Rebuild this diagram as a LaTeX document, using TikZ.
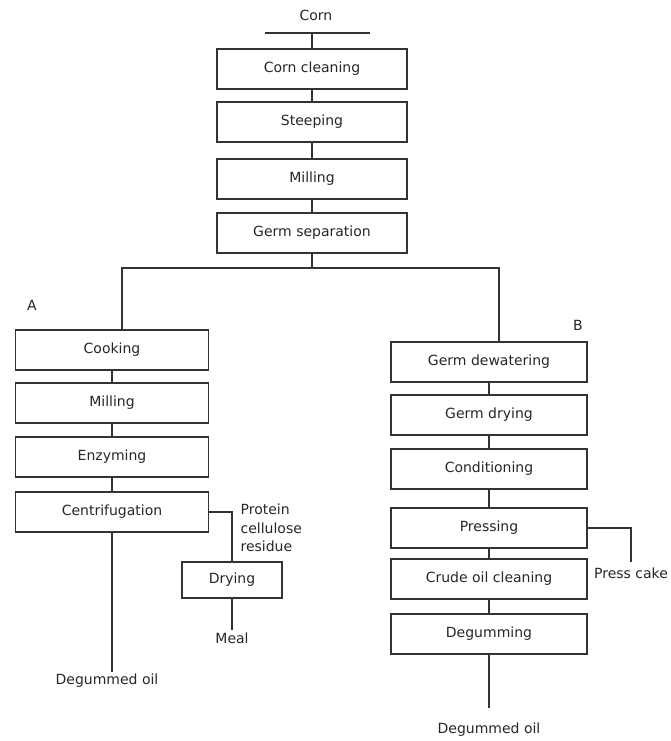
\documentclass[tikz,border=0pt]{standalone}
\usepackage{fontspec}
\setmainfont{DejaVu Sans}
\usetikzlibrary{calc,
	positioning}

\begin{document}
\begin{tikzpicture}[x=1pt, y=-1pt, line width=1.2pt, draw=black!80, text=black!85,
	box/.style={draw, minimum height=40pt, inner sep=0pt, font=\fontsize{14}{17}\selectfont},
	lbl/.style={font=\fontsize{14}{18.5}\selectfont, inner sep=2pt}]
	\useasboundingbox (0, 0) rectangle (670, 741);
	% raw material
	\node[lbl] (corn) at (316, 15) {Corn};
	\coordinate (cornl) at (265, 33);
	\coordinate (cornr) at (370, 33);
	\draw (cornl) -- (cornr);
	\foreach \name/\txt/\y in {clean/Corn cleaning/69, steep/Steeping/122, mill/Milling/179, sep/Germ separation/233} {
		\node[box, minimum width=190pt] (\name) at (312, \y) {\txt};
	}
	% route A
	\foreach \name/\txt/\y in {cook/Cooking/350, millA/Milling/403, enz/Enzyming/457, cent/Centrifugation/512} {
		\node[box, minimum width=193pt] (\name) at (112, \y) {\txt};
	}
	% route B
	\foreach \name/\txt/\y in {dew/Germ dewatering/362, gdry/Germ drying/415, cond/Conditioning/469, press/Pressing/528, crude/Crude oil cleaning/579, degum/Degumming/634} {
		\node[box, minimum width=196pt] (\name) at (489, \y) {\txt};
	}
	\foreach \a/\b in {clean/steep, steep/mill, mill/sep, cook/millA, millA/enz, enz/cent, dew/gdry, gdry/cond, cond/press, press/crude, crude/degum} {
		\draw (\a) -- (\b);
	}
	\draw (clean) -- (clean |- cornl);
	% split into A and B
	\coordinate (brA) at (122, 268);
	\coordinate (brB) at (499, 268);
	\draw (sep) -- (sep |- brA);
	\draw (cook.north -| brA) -- (brA) -- (brB) -- (dew.north -| brB);
	\node[lbl] (labA) at (32, 305) {A};
	\node[lbl] (labB) at (578, 325) {B};
	% side streams
	\node[lbl, align=left, anchor=west] (resid) at (238, 528) {Protein\\cellulose\\residue};
	\node[box, minimum width=100pt, minimum height=36pt] (dry) at (232, 580) {Drying};
	\draw (cent) -| (dry);
	\node[lbl] (meal) at (232, 638) {Meal};
	\draw (dry) -- (meal);
	\node[lbl, outer sep=4pt] (cake) at (631, 573) {Press cake};
	\draw (press) -| (cake);
	% products
	\node[lbl] (oilA) at (107, 681) {Degummed oil};
	\draw (cent) -- (cent |- oilA.north) coordinate (oilAend);
	\node[lbl, outer sep=13pt] (oilB) at (489, 730) {Degummed oil};
	\draw (degum) -- (oilB);
\end{tikzpicture}
\end{document}
